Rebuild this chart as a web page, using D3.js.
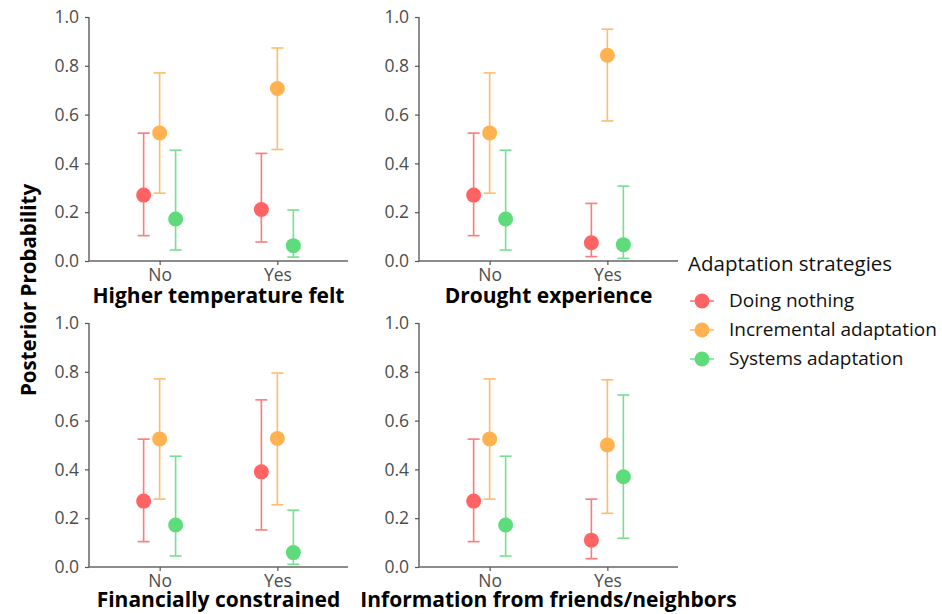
<!DOCTYPE html>
<html><head><meta charset="utf-8">
<script src="https://cdn.jsdelivr.net/npm/d3@7"></script>
<style>body{margin:0;background:#fff}text{font-family:"Open Sans",sans-serif}</style>
</head><body><svg id="c" width="942" height="614"></svg>
<script>
const panels = ["Higher temperature felt","Drought experience","Financially constrained","Information from friends/neighbors"];
const levels = ["No","Yes"];
const series = ["Doing nothing","Incremental adaptation","Systems adaptation"];
const colors = ["#FF6363","#FFB24F","#5EDC7C"];
const yTicks = [0,0.2,0.4,0.6,0.8,1.0];
// estimates [panel][level][series]
const est = [
 [[0.270,0.525,0.172],[0.211,0.707,0.063]],
 [[0.270,0.525,0.172],[0.075,0.843,0.067]],
 [[0.270,0.525,0.172],[0.390,0.527,0.059]],
 [[0.270,0.525,0.172],[0.110,0.500,0.370]]
];
const lo = [
 [[0.104,0.278,0.045],[0.078,0.457,0.016]],
 [[0.104,0.278,0.045],[0.018,0.574,0.011]],
 [[0.104,0.278,0.045],[0.152,0.255,0.011]],
 [[0.104,0.278,0.045],[0.034,0.220,0.118]]
];
const hi = [
 [[0.524,0.771,0.454],[0.441,0.873,0.209]],
 [[0.524,0.771,0.454],[0.236,0.950,0.307]],
 [[0.524,0.771,0.454],[0.685,0.795,0.233]],
 [[0.524,0.771,0.454],[0.278,0.767,0.705]]
];

const svg = d3.select("#c");
const W = 259, H = 244;
const origins = [[89,17],[419,17],[89,323],[419,323]];
const x = d3.scalePoint().domain(levels).range([0,W]).padding(0.6);
const dodge = d3.scalePoint().domain(series).range([-16,16]);
const y = d3.scaleLinear().domain([0,1]).range([H,0]);
const col = d3.scaleOrdinal().domain(series).range(colors);

panels.forEach((p,pi)=>{
  const g = svg.append("g").attr("transform",`translate(${origins[pi][0]},${origins[pi][1]})`);
  const yAxis = g.append("g").call(d3.axisLeft(y).tickValues(yTicks).tickFormat(d3.format(".1f")).tickSize(4).tickPadding(6));
  const xAxis = g.append("g").attr("transform",`translate(0,${H})`).call(d3.axisBottom(x).tickSize(4).tickPadding(4));
  [yAxis,xAxis].forEach(a=>{
    a.select(".domain").attr("stroke","#666").attr("stroke-width",1.5);
    a.selectAll(".tick line").attr("stroke","#555").attr("stroke-width",1.2);
    a.selectAll(".tick text").attr("fill","#4D4D4D").style("font-size","17.5px").style("font-family","Open Sans");
  });
  yAxis.select(".domain").attr("d",`M0,${H}V0`);
  xAxis.select(".domain").attr("d",`M0,0H${W}`);
  const data = [];
  levels.forEach((l,li)=>series.forEach((s,si)=>data.push({l,s,v:est[pi][li][si],lo:lo[pi][li][si],hi:hi[pi][li][si]})));
  const cw = 6;
  const eb = g.selectAll(".eb").data(data).enter().append("g")
    .attr("stroke",d=>col(d.s)).attr("stroke-width",1.6).attr("opacity",0.85).attr("fill","none");
  eb.append("line").attr("x1",d=>x(d.l)+dodge(d.s)).attr("x2",d=>x(d.l)+dodge(d.s)).attr("y1",d=>y(d.lo)).attr("y2",d=>y(d.hi));
  eb.append("line").attr("x1",d=>x(d.l)+dodge(d.s)-cw).attr("x2",d=>x(d.l)+dodge(d.s)+cw).attr("y1",d=>y(d.lo)).attr("y2",d=>y(d.lo));
  eb.append("line").attr("x1",d=>x(d.l)+dodge(d.s)-cw).attr("x2",d=>x(d.l)+dodge(d.s)+cw).attr("y1",d=>y(d.hi)).attr("y2",d=>y(d.hi));
  g.selectAll(".pt").data(data).enter().append("circle")
    .attr("cx",d=>x(d.l)+dodge(d.s)).attr("cy",d=>y(d.v)).attr("r",7.5).attr("fill",d=>col(d.s));
  g.append("text").attr("x",W/2).attr("y",H + (pi < 2 ? 42 : 40)).attr("text-anchor","middle")
    .style("font-size","21px").style("font-weight","bold").attr("fill","#000").text(p);
});

svg.append("text").attr("transform","translate(36,290) rotate(-90)").attr("text-anchor","middle")
  .style("font-size","20.5px").style("font-weight","bold").text("Posterior Probability");

const lg = svg.append("g").attr("transform","translate(688,0)");
lg.append("text").attr("x",0).attr("y",271).style("font-size","20.5px").attr("fill","#111").text("Adaptation strategies");
series.forEach((s,i)=>{
  const yy = 301 + i*29;
  lg.append("line").attr("x1",2).attr("x2",26).attr("y1",yy).attr("y2",yy).attr("stroke",col(s)).attr("stroke-width",1.6).attr("opacity",0.85);
  lg.append("circle").attr("cx",14).attr("cy",yy).attr("r",7.5).attr("fill",col(s));
  lg.append("text").attr("x",41).attr("y",yy+6).style("font-size","19px").attr("fill","#111").text(s);
});
</script></body></html>
